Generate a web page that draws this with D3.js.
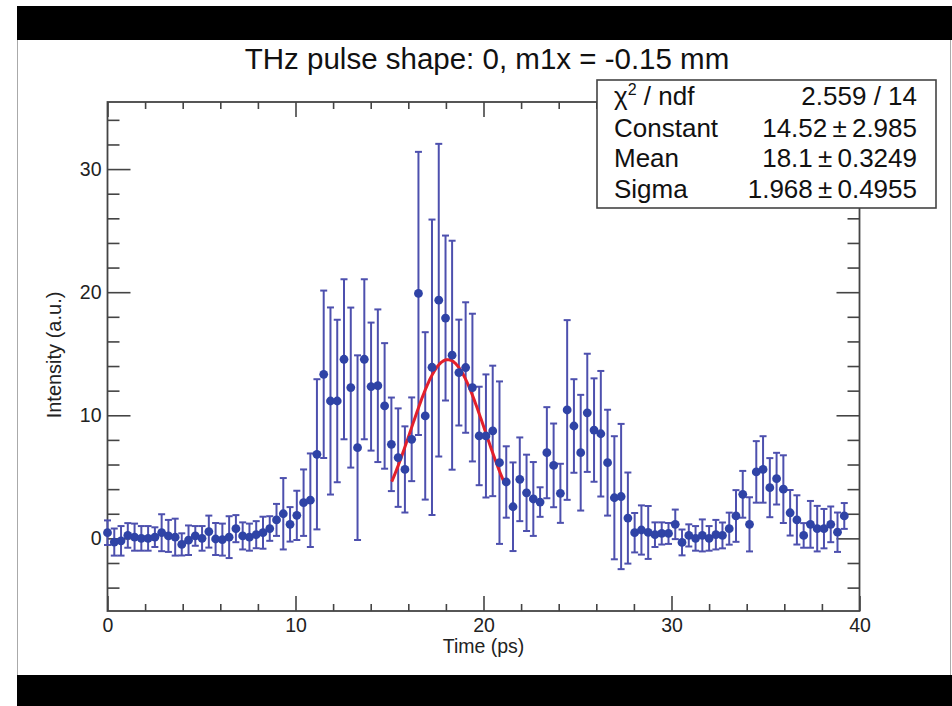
<!DOCTYPE html>
<html>
<head>
<meta charset="utf-8">
<script src="https://cdn.jsdelivr.net/npm/d3@7"></script>
<style>
  body { margin: 0; background: #fff; }
  svg { display: block; font-family: "Liberation Sans", Arial, sans-serif; }
</style>
</head>
<body>
<div id="chart"></div>
<script>
var w = 952;
var h = 706;

// time of each point (ps)
var times = [0, 0.36, 0.72, 1.08, 1.44, 1.80, 2.16, 2.52, 2.88, 3.24,
    3.60, 3.95, 4.31, 4.67, 5.03, 5.39, 5.75, 6.11, 6.47, 6.83,
    7.19, 7.55, 7.91, 8.27, 8.63, 8.99, 9.35, 9.71, 10.07, 10.43,
    10.79, 11.14, 11.50, 11.86, 12.22, 12.58, 12.94, 13.30, 13.66, 14.02,
    14.38, 14.74, 15.10, 15.46, 15.82, 16.18, 16.54, 16.90, 17.26, 17.62,
    17.98, 18.33, 18.69, 19.05, 19.41, 19.77, 20.13, 20.49, 20.85, 21.21,
    21.57, 21.93, 22.29, 22.65, 23.01, 23.37, 23.73, 24.09, 24.45, 24.81,
    25.17, 25.52, 25.88, 26.24, 26.60, 26.96, 27.32, 27.68, 28.04, 28.40,
    28.76, 29.12, 29.48, 29.84, 30.20, 30.56, 30.92, 31.28, 31.64, 32.00,
    32.36, 32.71, 33.07, 33.43, 33.79, 34.15, 34.51, 34.87, 35.23, 35.59,
    35.95, 36.31, 36.67, 37.03, 37.39, 37.75, 38.11, 38.47, 38.83, 39.19];

var intensity = [0.46, -0.3, -0.2, 0.24, 0.1, 0.0, 0.0, 0.1, 0.46, 0.2,
    0.1, -0.49, -0.15, 0.2, 0.0, 0.55, -0.05, -0.1, 0.1, 0.79,
    0.2, 0.1, 0.3, 0.46, 0.8, 1.5, 2.0, 1.14, 1.87, 2.9,
    3.1, 6.83, 13.33, 11.16, 11.16, 14.55, 12.25, 7.37, 14.55, 12.33,
    12.4, 10.76, 7.64, 6.56, 5.6, 8.05, 19.9, 9.95, 13.9, 19.35,
    17.9, 14.88, 13.47, 13.88, 12.25, 8.32, 8.32, 8.73, 6.15, 4.58,
    2.57, 4.8, 3.7, 3.2, 2.95, 6.96, 5.93, 3.66, 10.43, 9.13,
    6.96, 10.2, 8.8, 8.5, 6.15, 3.3, 3.4, 1.65, 0.46, 0.68,
    0.48, 0.3, 0.4, 0.4, 1.14, -0.33, 0.24, 0.0, 0.24, 0.0,
    0.3, 0.24, 0.79, 1.82, 3.58, 1.14, 5.4, 5.6, 4.12, 4.85,
    4.0, 2.08, 1.5, 0.24, 1.14, 0.79, 0.79, 1.14, 0.5, 1.82];

var errors = [1.0, 1.1, 1.2, 1.0, 1.1, 1.0, 1.0, 0.8, 1.5, 1.3,
    1.5, 0.9, 1.2, 0.8, 1.0, 1.3, 1.3, 1.3, 1.7, 1.1,
    1.1, 1.1, 1.1, 1.3, 1.0, 1.3, 2.9, 1.4, 2.0, 2.7,
    3.8, 6.1, 6.8, 7.6, 6.6, 6.5, 6.5, 7.5, 6.5, 5.2,
    6.2, 5.1, 3.8, 4.0, 3.5, 3.4, 11.5, 6.8, 12.0, 12.7,
    6.7, 9.3, 4.3, 5.3, 6.0, 4.0, 5.0, 5.3, 6.6, 2.9,
    3.6, 3.4, 3.1, 3.0, 1.2, 3.7, 3.4, 2.4, 7.3, 3.8,
    4.7, 4.8, 4.2, 5.1, 4.3, 5.0, 5.9, 3.7, 1.6, 2.0,
    2.15, 1.0, 0.9, 0.85, 1.2, 1.05, 0.9, 1.0, 1.3, 1.0,
    1.2, 1.05, 1.3, 2.1, 1.9, 2.2, 2.5, 2.7, 2.4, 2.1,
    2.75, 1.85, 2.0, 1.0, 1.9, 1.85, 1.6, 1.45, 1.6, 1.05];

// gaussian fit results
var fitNames = ["Constant", "Mean", "Sigma"];
var fitValues = [14.52, 18.1, 1.968];
var fitValueText = ["14.52", "18.1", "1.968"];
var fitErrorText = ["2.985", "0.3249", "0.4955"];
var chi2 = "2.559";
var ndf = "14";
var fitRange = [15.12, 21.08];

var xMajor = [0, 10, 20, 30, 40];
var yMajor = [0, 10, 20, 30];

var data = times.map(function (t, i) {
    return { t: t, v: intensity[i], e: errors[i] };
});

var svg = d3.select("#chart")
    .append("svg")
    .attr("width", w)
    .attr("height", h);

// page frame like the screenshot
svg.append("rect").attr("x", 17).attr("y", 6).attr("width", w - 17).attr("height", 34).attr("fill", "#000");
svg.append("rect").attr("x", 17).attr("y", 675).attr("width", w - 17).attr("height", 31).attr("fill", "#000");
svg.append("line").attr("x1", 17.5).attr("x2", 17.5).attr("y1", 40).attr("y2", 675).attr("stroke", "#aaa");
svg.append("line").attr("x1", 950.5).attr("x2", 950.5).attr("y1", 40).attr("y2", 675).attr("stroke", "#aaa");

var x = d3.scaleLinear().domain([0, 40]).range([107.5, 859.5]);
var y = d3.scaleLinear().domain([-5.9, 35.45]).range([611, 102]);

var minorX = d3.range(0, 41, 2).filter(function (d) { return d % 10 !== 0; });
var minorY = d3.range(-4, 36, 2).filter(function (d) { return d % 10 !== 0; });

function styleAxis(g) {
    g.select(".domain").remove();
    g.selectAll(".tick line").attr("stroke", "#444").attr("stroke-width", 1.6);
    g.selectAll(".tick text").attr("fill", "#222").attr("font-size", "19.5px")
        .attr("font-family", "Liberation Sans, Arial, sans-serif");
}

// bottom axis
svg.append("g").attr("transform", "translate(0," + y(-5.9) + ")")
    .call(d3.axisBottom(x).tickValues(xMajor).tickSize(-15).tickPadding(7).tickFormat(d3.format("d")))
    .call(styleAxis);
svg.append("g").attr("transform", "translate(0," + y(-5.9) + ")")
    .call(d3.axisBottom(x).tickValues(minorX).tickSize(-7).tickFormat(""))
    .call(styleAxis);
// top axis
svg.append("g").attr("transform", "translate(0," + y(35.45) + ")")
    .call(d3.axisTop(x).tickValues(xMajor).tickSize(-15).tickFormat(""))
    .call(styleAxis);
svg.append("g").attr("transform", "translate(0," + y(35.45) + ")")
    .call(d3.axisTop(x).tickValues(minorX).tickSize(-7).tickFormat(""))
    .call(styleAxis);
// left axis
svg.append("g").attr("transform", "translate(" + x(0) + ",0)")
    .call(d3.axisLeft(y).tickValues(yMajor).tickSize(-23).tickPadding(6).tickFormat(d3.format("d")))
    .call(styleAxis);
svg.append("g").attr("transform", "translate(" + x(0) + ",0)")
    .call(d3.axisLeft(y).tickValues(minorY).tickSize(-12).tickFormat(""))
    .call(styleAxis);
// right axis
svg.append("g").attr("transform", "translate(" + x(40) + ",0)")
    .call(d3.axisRight(y).tickValues(yMajor).tickSize(-23).tickFormat(""))
    .call(styleAxis);
svg.append("g").attr("transform", "translate(" + x(40) + ",0)")
    .call(d3.axisRight(y).tickValues(minorY).tickSize(-12).tickFormat(""))
    .call(styleAxis);

// plot frame
svg.append("rect")
    .attr("x", x(0)).attr("y", y(35.45))
    .attr("width", x(40) - x(0)).attr("height", y(-5.9) - y(35.45))
    .attr("fill", "none").attr("stroke", "#444").attr("stroke-width", 1.8);

// error bars
var bars = svg.append("g").attr("stroke", "#4d50ae").attr("stroke-width", 2);
bars.selectAll("line.err")
    .data(data).enter().append("line").attr("class", "err")
    .attr("x1", function (d) { return x(d.t); })
    .attr("x2", function (d) { return x(d.t); })
    .attr("y1", function (d) { return y(d.v - d.e); })
    .attr("y2", function (d) { return y(d.v + d.e); });
bars.selectAll("line.capTop")
    .data(data).enter().append("line").attr("class", "capTop")
    .attr("x1", function (d) { return x(d.t) - 3.5; })
    .attr("x2", function (d) { return x(d.t) + 3.5; })
    .attr("y1", function (d) { return y(d.v + d.e); })
    .attr("y2", function (d) { return y(d.v + d.e); });
bars.selectAll("line.capBot")
    .data(data).enter().append("line").attr("class", "capBot")
    .attr("x1", function (d) { return x(d.t) - 3.5; })
    .attr("x2", function (d) { return x(d.t) + 3.5; })
    .attr("y1", function (d) { return y(d.v - d.e); })
    .attr("y2", function (d) { return y(d.v - d.e); });

// fit curve
var fitPts = d3.range(fitRange[0], fitRange[1] + 0.001, 0.05).map(function (t) {
    var z = (t - fitValues[1]) / fitValues[2];
    return [t, fitValues[0] * Math.exp(-0.5 * z * z)];
});
svg.append("path")
    .datum(fitPts)
    .attr("fill", "none")
    .attr("stroke", "#e3202c")
    .attr("stroke-width", 3)
    .attr("d", d3.line().x(function (d) { return x(d[0]); }).y(function (d) { return y(d[1]); }));

// points
svg.append("g").selectAll("circle")
    .data(data).enter().append("circle")
    .attr("cx", function (d) { return x(d.t); })
    .attr("cy", function (d) { return y(d.v); })
    .attr("r", 4.4)
    .attr("fill", "#2f43a6");

// title and axis titles
svg.append("text")
    .attr("x", 487).attr("y", 69)
    .attr("text-anchor", "middle")
    .attr("font-size", "29.5px").attr("fill", "#111")
    .text("THz pulse shape: 0, m1x = -0.15 mm");

svg.append("text")
    .attr("x", x(20)).attr("y", 653)
    .attr("text-anchor", "middle")
    .attr("font-size", "19.5px").attr("fill", "#222")
    .text("Time (ps)");

svg.append("text")
    .attr("transform", "translate(61," + 355 + ") rotate(-90)")
    .attr("text-anchor", "middle")
    .attr("font-size", "20px").attr("fill", "#222")
    .text("Intensity (a.u.)");

// stats box
var box = svg.append("g");
box.append("rect")
    .attr("x", 597).attr("y", 80).attr("width", 339).attr("height", 128)
    .attr("fill", "#fff").attr("stroke", "#444").attr("stroke-width", 1.6);

var rowY = [105, 137, 167, 198];
var chiText = box.append("text").attr("x", 614).attr("y", rowY[0]).attr("font-size", "26px").attr("fill", "#111");
chiText.append("tspan").text("\u03c7");
chiText.append("tspan").attr("font-size", "16px").attr("dy", -10).text("2");
chiText.append("tspan").attr("dy", 10).text(" / ndf");
box.append("text").attr("x", 917).attr("y", rowY[0]).attr("text-anchor", "end")
    .attr("font-size", "26px").attr("fill", "#111").text(chi2 + " / " + ndf);

box.selectAll("text.name")
    .data(fitNames).enter().append("text").attr("class", "name")
    .attr("x", 614).attr("y", function (d, i) { return rowY[i + 1]; })
    .attr("font-size", "26px").attr("fill", "#111")
    .text(function (d) { return d; });
box.selectAll("text.val")
    .data(fitNames).enter().append("text").attr("class", "val")
    .attr("x", 917).attr("y", function (d, i) { return rowY[i + 1]; })
    .attr("text-anchor", "end")
    .attr("font-size", "26px").attr("fill", "#111")
    .text(function (d, i) { return fitValueText[i] + "\u2009\u00b1\u2009" + fitErrorText[i]; });
</script>
</body>
</html>
